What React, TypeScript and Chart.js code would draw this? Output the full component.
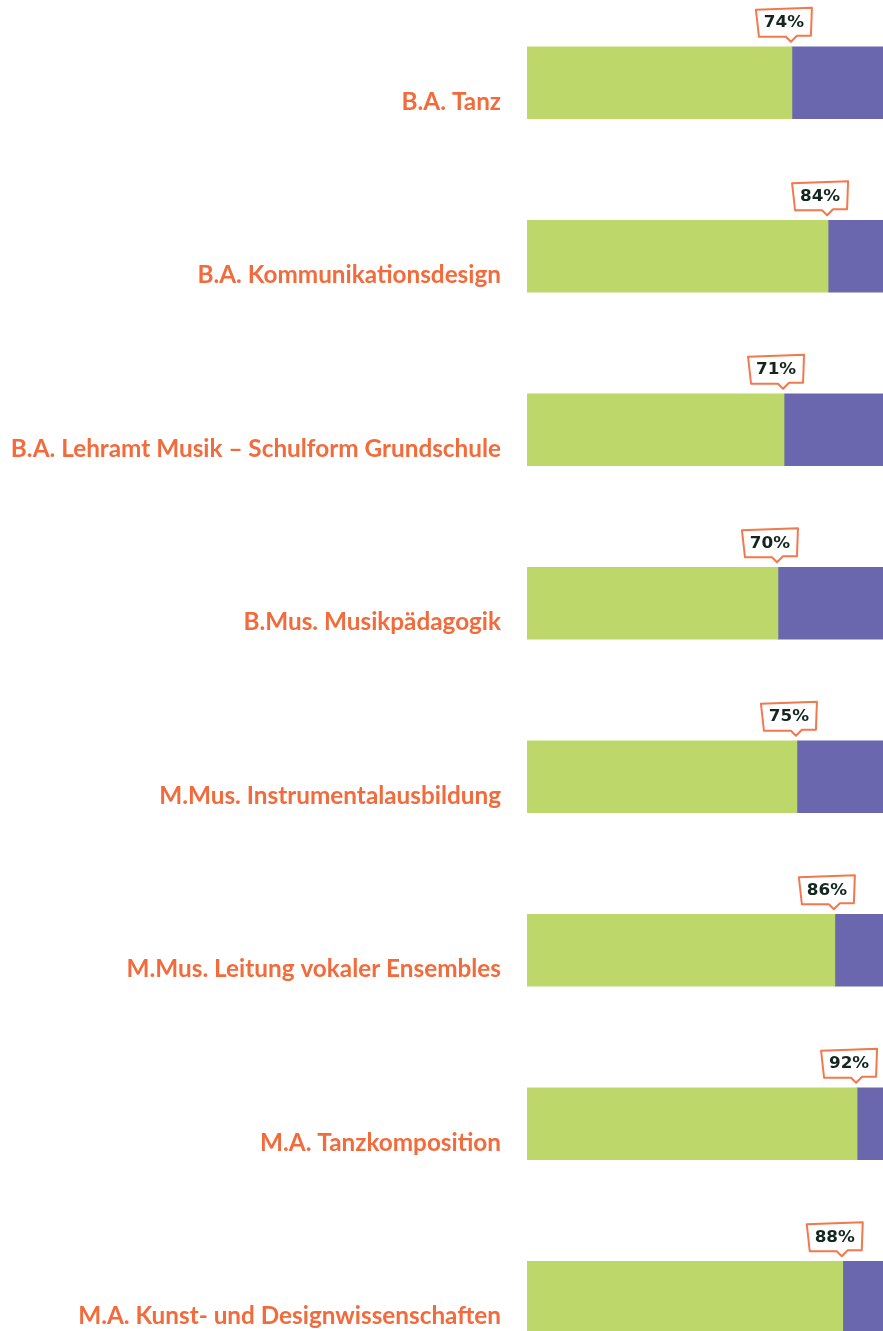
import React, { useEffect, useRef } from "react";
import { Chart, registerables } from "chart.js";

Chart.register(...registerables);

const categories = [
  "B.A. Tanz",
  "B.A. Kommunikationsdesign",
  "B.A. Lehramt Musik – Schulform Grundschule",
  "B.Mus. Musikpädagogik",
  "M.Mus. Instrumentalausbildung",
  "M.Mus. Leitung vokaler Ensembles",
  "M.A. Tanzkomposition",
  "M.A. Kunst- und Designwissenschaften",
];
const shareValues = [74, 84.1, 71.8, 70.1, 75.4, 86, 92.2, 88.2];
const restValues = shareValues.map((v) => 100 - v);
const shareLabels = shareValues.map((v) => Math.floor(v) + "%");

const GREEN = "#BDD76A";
const PURPLE = "#6A67AF";
const ORANGE = "#F26B3C";
const CALLOUT_BORDER = "#F2784E";
const CALLOUT_TEXT = "#14261F";

const calloutPlugin = {
  id: "callouts",
  afterDatasetsDraw(chart: any) {
    const meta = chart.getDatasetMeta(0);
    const ctx = chart.ctx as CanvasRenderingContext2D;
    meta.data.forEach((bar: any, i: number) => {
      const p = bar.getProps(["x", "y", "height"], true);
      const x = p.x;
      const top = p.y - p.height / 2;
      const w = 56;
      const h = 27;
      const cx = x - 8;
      const bx = cx - w / 2;
      const by = top - 38;
      ctx.save();
      ctx.beginPath();
      ctx.moveTo(bx, by + 1);
      ctx.lineTo(bx + w, by - 1);
      ctx.lineTo(bx + w - 1, by + h);
      ctx.lineTo(x + 5, by + h);
      ctx.lineTo(x - 1, by + h + 6);
      ctx.lineTo(x - 6, by + h + 1);
      ctx.lineTo(bx + 3, by + h + 1);
      ctx.closePath();
      ctx.fillStyle = "#ffffff";
      ctx.fill();
      ctx.lineWidth = 2;
      ctx.lineJoin = "round";
      ctx.strokeStyle = CALLOUT_BORDER;
      ctx.stroke();
      ctx.translate(cx, by + h / 2 + 1);
      ctx.scale(1.05, 1);
      ctx.fillStyle = CALLOUT_TEXT;
      ctx.font = "bold 16px 'DejaVu Sans'";
      ctx.textAlign = "center";
      ctx.textBaseline = "middle";
      ctx.fillText(shareLabels[i], 0, 0);
      ctx.restore();
    });
  },
};

export default function App() {
  const ref = useRef<HTMLCanvasElement>(null);
  useEffect(() => {
    if (!ref.current) return;
    const chart = new Chart(ref.current, {
      type: "bar",
      data: {
        labels: categories,
        datasets: [
          {
            data: shareValues,
            backgroundColor: GREEN,
            barThickness: 72,
            borderWidth: 0,
          },
          {
            data: restValues,
            backgroundColor: PURPLE,
            barThickness: 72,
            borderWidth: 0,
          },
        ],
      },
      options: {
        indexAxis: "y",
        animation: false,
        responsive: false,
        maintainAspectRatio: false,
        layout: { padding: 0 },
        plugins: {
          legend: { display: false },
          tooltip: { enabled: false },
        },
        scales: {
          x: {
            stacked: true,
            min: 0,
            max: 100,
            display: false,
          },
          y: {
            stacked: true,
            offset: true,
            grid: { display: false, drawTicks: false },
            border: { display: false },
            ticks: {
              padding: 26,
              labelOffset: 19,
              color: ORANGE,
              font: { family: "Lato", weight: "bold", size: 24.3 },
            },
            afterFit: (scale: any) => {
              scale.width = 527;
              scale.paddingTop = 0;
              scale.paddingBottom = 0;
            },
          },
        },
      },
      plugins: [calloutPlugin],
    } as any);
    return () => chart.destroy();
  }, []);
  return (
    <div
      style={{
        position: "absolute",
        left: 0,
        top: 0,
        width: 883,
        height: 1331,
        overflow: "hidden",
        background: "#ffffff",
      }}
    >
      <canvas
        ref={ref}
        width={885}
        height={1388}
        style={{ position: "absolute", left: 0, top: -4, width: 885, height: 1388 }}
      />
    </div>
  );
}
